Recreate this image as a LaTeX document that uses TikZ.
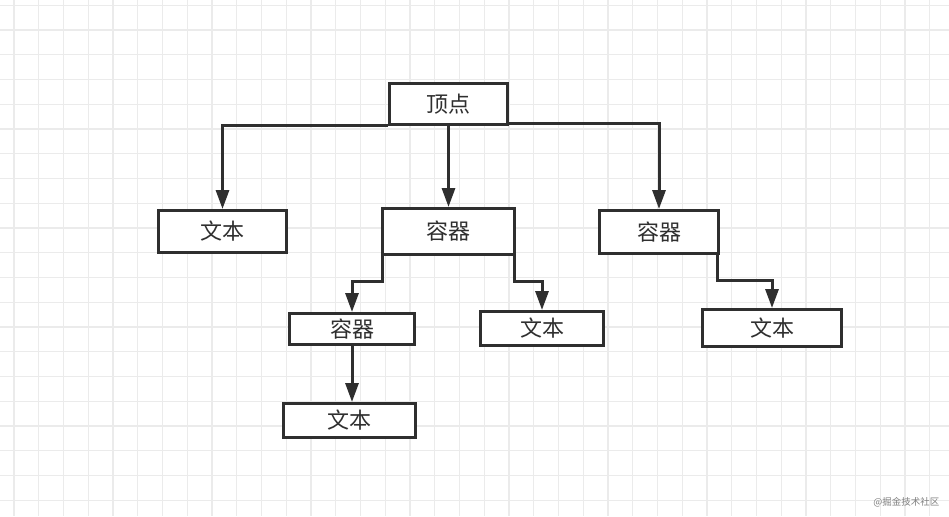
\documentclass[tikz,border=0pt]{standalone}
\usepackage{fontspec}
\newfontfamily\cjk{Noto Sans CJK SC}
\usetikzlibrary{arrows.meta}
\definecolor{ink}{HTML}{2F2F2F}
\definecolor{gridminor}{HTML}{EBEBEB}
\tikzset{
  box/.style={draw=ink, line width=3pt, fill=white, rectangle, inner sep=0pt,
    font=\cjk\fontsize{22}{26}\selectfont, text=ink},
  conn/.style={draw=ink, line width=3pt, -{Triangle[length=19pt,width=13pt]}},
  gminor/.style={gridminor, line width=1.2pt},
}
\begin{document}
\begin{tikzpicture}[x=1pt,y=-1pt]
\fill[white] (0,0) rectangle (949,516);
\useasboundingbox (0,0) rectangle (949,516);
\foreach \k in {0,...,38} \draw[gminor] ({14+24.75*\k},0) -- ({14+24.75*\k},516);
\foreach \k in {0,...,21} \draw[gminor] (0,{5.25+24.75*\k}) -- (949,{5.25+24.75*\k});

\node[box, minimum width=118pt, minimum height=41pt] (top) at (448.5,104) {顶点};
\node[box, minimum width=128pt, minimum height=42pt] (t1) at (222.5,231.5) {文本};
\node[box, minimum width=132pt, minimum height=46pt] (c1) at (448.5,231.5) {容器};
\node[box, minimum width=119pt, minimum height=43pt] (c2) at (659,232) {容器};
\node[box, minimum width=125pt, minimum height=31pt] (c3) at (352,329) {容器};
\node[box, minimum width=123pt, minimum height=34pt] (t2) at (542,328.5) {文本};
\node[box, minimum width=139pt, minimum height=37pt] (t3) at (772,328) {文本};
\node[box, minimum width=132pt, minimum height=34pt] (t4) at (349.5,420.5) {文本};

\draw[conn] ([yshift=1pt]top.south west) -| (t1.north);
\draw[conn] (top.south) -- (c1.north);
\draw[conn] ([yshift=3pt]top.south east) -| (c2.north);
\draw[conn] ([xshift=1pt]c1.south west) -- ++(0,25) -| (c3.north);
\draw[conn] ([xshift=-2pt]c1.south east) -- ++(0,25) -| (t2.north);
\draw[conn] ([xshift=-3pt]c2.south east) -- ++(0,25) -| (t3.north);
\draw[conn] (c3.south) -- (c3.south |- t4.north);

\node[font=\cjk\fontsize{9.5}{11}\selectfont, text=gray, anchor=east] (wm) at (943,502) {@掘金技术社区};
\end{tikzpicture}
\end{document}
